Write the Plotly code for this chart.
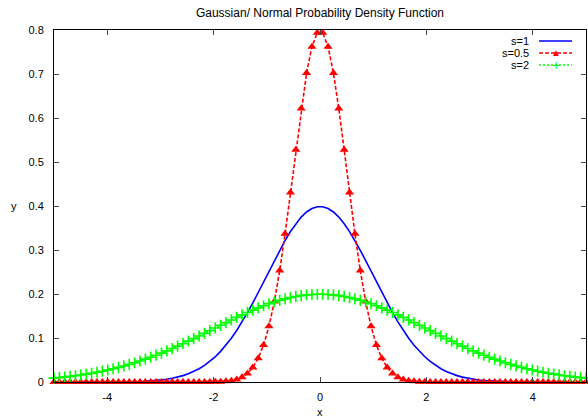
import plotly.graph_objects as go

title = "Gaussian/ Normal Probability Density Function"
series_names = ["s=1", "s=0.5", "s=2"]

x_vals = [
    -5.0, -4.899, -4.798, -4.697, -4.596, -4.4949, -4.3939, -4.2929, -4.1919, -4.0909,
    -3.9899, -3.8889, -3.7879, -3.6869, -3.5859, -3.4848, -3.3838, -3.2828, -3.1818, -3.0808,
    -2.9798, -2.8788, -2.7778, -2.6768, -2.5758, -2.4747, -2.3737, -2.2727, -2.1717, -2.0707,
    -1.9697, -1.8687, -1.7677, -1.6667, -1.5657, -1.4646, -1.3636, -1.2626, -1.1616, -1.0606,
    -0.9596, -0.8586, -0.7576, -0.6566, -0.5556, -0.4545, -0.3535, -0.2525, -0.1515, -0.0505,
    0.0505, 0.1515, 0.2525, 0.3535, 0.4545, 0.5556, 0.6566, 0.7576, 0.8586, 0.9596,
    1.0606, 1.1616, 1.2626, 1.3636, 1.4646, 1.5657, 1.6667, 1.7677, 1.8687, 1.9697,
    2.0707, 2.1717, 2.2727, 2.3737, 2.4747, 2.5758, 2.6768, 2.7778, 2.8788, 2.9798,
    3.0808, 3.1818, 3.2828, 3.3838, 3.4848, 3.5859, 3.6869, 3.7879, 3.8889, 3.9899,
    4.0909, 4.1919, 4.2929, 4.3939, 4.4949, 4.596, 4.697, 4.798, 4.899, 5.0,
]

y_s1 = [
    0, 0, 0, 0, 0, 0, 0, 0, 0.0001, 0.0001,
    0.0001, 0.0002, 0.0003, 0.0004, 0.0006, 0.0009, 0.0013, 0.0018, 0.0025, 0.0035,
    0.0047, 0.0063, 0.0084, 0.0111, 0.0145, 0.0187, 0.0238, 0.0302, 0.0377, 0.0468,
    0.0573, 0.0696, 0.0836, 0.0995, 0.1171, 0.1365, 0.1575, 0.1798, 0.2032, 0.2273,
    0.2517, 0.2760, 0.2994, 0.3216, 0.3419, 0.3598, 0.3748, 0.3864, 0.3944, 0.3984,
    0.3984, 0.3944, 0.3864, 0.3748, 0.3598, 0.3419, 0.3216, 0.2994, 0.2760, 0.2517,
    0.2273, 0.2032, 0.1798, 0.1575, 0.1365, 0.1171, 0.0995, 0.0836, 0.0696, 0.0573,
    0.0468, 0.0377, 0.0302, 0.0238, 0.0187, 0.0145, 0.0111, 0.0084, 0.0063, 0.0047,
    0.0035, 0.0025, 0.0018, 0.0013, 0.0009, 0.0006, 0.0004, 0.0003, 0.0002, 0.0001,
    0.0001, 0.0001, 0, 0, 0, 0, 0, 0, 0, 0,
]

y_s05 = [
    0, 0, 0, 0, 0, 0, 0, 0, 0, 0,
    0, 0, 0, 0, 0, 0, 0, 0, 0, 0,
    0, 0, 0, 0, 0, 0, 0, 0, 0.0001, 0.0002,
    0.0003, 0.0007, 0.0015, 0.0031, 0.0059, 0.0109, 0.0194, 0.0329, 0.0537, 0.0841,
    0.1265, 0.1827, 0.2532, 0.3369, 0.4304, 0.5278, 0.6214, 0.7023, 0.7621, 0.7938,
    0.7938, 0.7621, 0.7023, 0.6214, 0.5278, 0.4304, 0.3369, 0.2532, 0.1827, 0.1265,
    0.0841, 0.0537, 0.0329, 0.0194, 0.0109, 0.0059, 0.0031, 0.0015, 0.0007, 0.0003,
    0.0002, 0.0001, 0, 0, 0, 0, 0, 0, 0, 0,
    0, 0, 0, 0, 0, 0, 0, 0, 0, 0,
    0, 0, 0, 0, 0, 0, 0, 0, 0, 0,
]

y_s2 = [
    0.0088, 0.0099, 0.0112, 0.0127, 0.0142, 0.0160, 0.0179, 0.0199, 0.0222, 0.0246,
    0.0273, 0.0301, 0.0332, 0.0365, 0.0400, 0.0437, 0.0477, 0.0519, 0.0563, 0.0609,
    0.0657, 0.0708, 0.0760, 0.0815, 0.0870, 0.0928, 0.0986, 0.1046, 0.1106, 0.1167,
    0.1228, 0.1289, 0.1350, 0.1410, 0.1468, 0.1526, 0.1581, 0.1634, 0.1685, 0.1733,
    0.1778, 0.1819, 0.1857, 0.1890, 0.1919, 0.1944, 0.1964, 0.1979, 0.1989, 0.1994,
    0.1994, 0.1989, 0.1979, 0.1964, 0.1944, 0.1919, 0.1890, 0.1857, 0.1819, 0.1778,
    0.1733, 0.1685, 0.1634, 0.1581, 0.1526, 0.1468, 0.1410, 0.1350, 0.1289, 0.1228,
    0.1167, 0.1106, 0.1046, 0.0986, 0.0928, 0.0870, 0.0815, 0.0760, 0.0708, 0.0657,
    0.0609, 0.0563, 0.0519, 0.0477, 0.0437, 0.0400, 0.0365, 0.0332, 0.0301, 0.0273,
    0.0246, 0.0222, 0.0199, 0.0179, 0.0160, 0.0142, 0.0127, 0.0112, 0.0099, 0.0088,
]

x_tickvals = [-4, -2, 0, 2, 4]
x_ticktext = ["-4", "-2", "0", "2", "4"]
y_tickvals = [0, 0.1, 0.2, 0.3, 0.4, 0.5, 0.6, 0.7, 0.8]
y_ticktext = ["0", "0.1", "0.2", "0.3", "0.4", "0.5", "0.6", "0.7", "0.8"]

BLUE = "#0000ff"
RED = "#ff0000"
GREEN = "#00ff00"
FONT = "Liberation Sans, Arial, sans-serif"

W, H = 588, 420
ML, MR, MT, MB = 54, 2, 30, 38
PW, PH = W - ML - MR, H - MT - MB


def px_x(px):
    return (px - ML) / PW


def px_y(py):
    return (H - MB - py) / PH


fig = go.Figure()
fig.add_trace(go.Scatter(x=x_vals, y=y_s1, mode="lines", name=series_names[0],
                         line=dict(color=BLUE, width=1.6), showlegend=False))
fig.add_trace(go.Scatter(x=x_vals, y=y_s05, mode="lines+markers", name=series_names[1],
                         line=dict(color=RED, width=1.6, dash="4px,2px"),
                         marker=dict(symbol="triangle-up", size=8, color=RED),
                         cliponaxis=False, showlegend=False))
fig.add_trace(go.Scatter(x=x_vals, y=y_s2, mode="lines+markers", name=series_names[2],
                         line=dict(color=GREEN, width=1.6, dash="2px,2px"),
                         marker=dict(symbol="cross-thin", size=8,
                                     line=dict(color=GREEN, width=1.6)),
                         cliponaxis=False, showlegend=False))

# manual gnuplot-style legend (text left of key sample)
legend_rows = [px_y(41), px_y(53), px_y(65)]
legend_cols = [BLUE, RED, GREEN]
legend_dash = ["solid", "4px,2px", "2px,2px"]
legend_glyph = ["", "\u25B2", "+"]
shapes = []
annotations = []
for name, yy, col, dsh, gl in zip(series_names, legend_rows, legend_cols, legend_dash, legend_glyph):
    annotations.append(dict(x=px_x(531), y=yy, xref="paper", yref="paper", text=name,
                            showarrow=False, xanchor="right", yanchor="middle",
                            font=dict(family=FONT, size=11, color="black")))
    shapes.append(dict(type="line", xref="paper", yref="paper", x0=px_x(539), x1=px_x(572),
                       y0=yy, y1=yy, line=dict(color=col, width=1.6, dash=dsh)))
    if gl:
        annotations.append(dict(x=px_x(555.5), y=yy, xref="paper", yref="paper", text=gl,
                                showarrow=False, xanchor="center", yanchor="middle",
                                font=dict(family=FONT, size=10 if gl == "\u25B2" else 14,
                                          color=col)))

annotations.append(dict(x=0.5, y=px_y(412), xref="paper", yref="paper", text="x",
                        showarrow=False, xanchor="center", yanchor="middle",
                        font=dict(family=FONT, size=11, color="black")))
annotations.append(dict(x=px_x(14), y=px_y(206), xref="paper", yref="paper",
                        text="y", showarrow=False, xanchor="center", yanchor="middle",
                        font=dict(family=FONT, size=11, color="black")))

fig.update_layout(
    width=W, height=H,
    margin=dict(l=ML, r=MR, t=MT, b=MB),
    paper_bgcolor="white", plot_bgcolor="white",
    title=dict(text=title, x=0.5, xref="paper", y=1 - 12.5 / H, yanchor="middle",
               font=dict(family=FONT, size=12, color="black")),
    font=dict(family=FONT, size=11, color="black"),
    shapes=shapes, annotations=annotations,
    xaxis=dict(range=[-5, 5], tickvals=x_tickvals, ticktext=x_ticktext, ticks="inside",
               ticklen=5, showline=True, linecolor="black", linewidth=1, mirror="ticks",
               showgrid=False, zeroline=False, ticklabelstandoff=5,
               tickfont=dict(family=FONT, size=11, color="black")),
    yaxis=dict(range=[0, 0.8], tickvals=y_tickvals, ticktext=y_ticktext, ticks="inside",
               ticklen=5, showline=True, linecolor="black", linewidth=1, mirror="ticks",
               showgrid=False, zeroline=False, ticklabelstandoff=7,
               tickfont=dict(family=FONT, size=11, color="black")),
)

fig.write_html("out.html", config={"displayModeBar": False},
               post_script="document.body.style.margin='0';document.body.style.overflow='hidden';")
